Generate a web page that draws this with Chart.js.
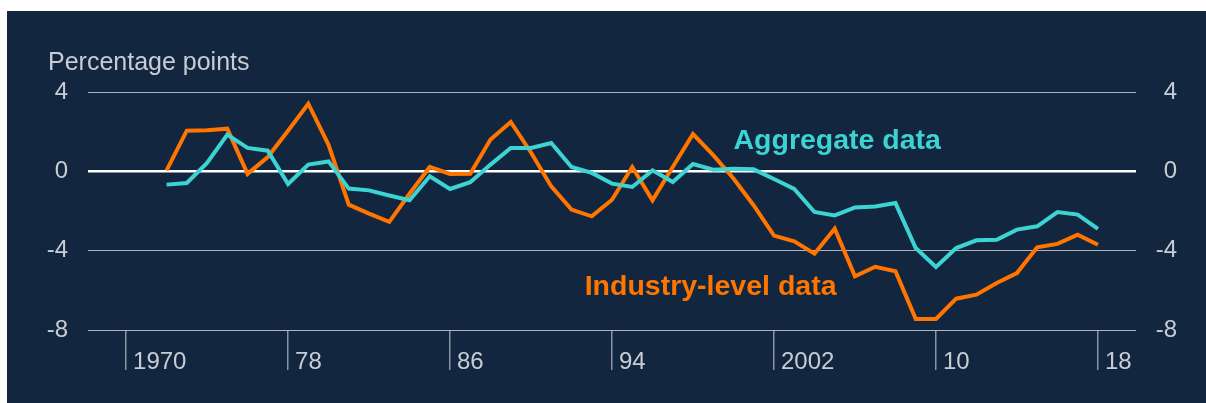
<!DOCTYPE html>
<html><head><meta charset="utf-8">
<script src="https://cdn.jsdelivr.net/npm/chart.js@4"></script>
<style>
html,body{margin:0;padding:0;background:#ffffff;}
#wrap{position:absolute;left:7px;top:11px;width:1199px;height:392px;background:#13263f;}
canvas{display:block;}
</style></head><body>
<div id="wrap"><canvas id="c" width="1199" height="392"></canvas></div>
<script>
const years = [1972,1973,1974,1975,1976,1977,1978,1979,1980,1981,1982,1983,1984,1985,1986,1987,1988,1989,1990,1991,1992,1993,1994,1995,1996,1997,1998,1999,2000,2001,2002,2003,2004,2005,2006,2007,2008,2009,2010,2011,2012,2013,2014,2015,2016,2017,2018];
const industry = [0.05,2.05,2.07,2.15,-0.13,0.72,2.05,3.41,1.34,-1.68,-2.13,-2.55,-1.13,0.22,-0.13,-0.12,1.6,2.49,0.95,-0.76,-1.93,-2.27,-1.43,0.22,-1.46,0.22,1.88,0.82,-0.36,-1.72,-3.24,-3.53,-4.15,-2.89,-5.29,-4.81,-5.04,-7.44,-7.44,-6.42,-6.22,-5.63,-5.13,-3.83,-3.66,-3.19,-3.7];
const aggregate = [-0.67,-0.59,0.42,1.85,1.18,1.04,-0.64,0.34,0.5,-0.87,-0.96,-1.22,-1.46,-0.25,-0.89,-0.55,0.34,1.18,1.18,1.43,0.22,-0.08,-0.62,-0.79,0.05,-0.54,0.37,0.08,0.13,0.1,-0.39,-0.89,-2.05,-2.22,-1.82,-1.77,-1.6,-3.87,-4.82,-3.87,-3.48,-3.45,-2.94,-2.77,-2.05,-2.18,-2.9];
const xTickValues = [1970,1978,1986,1994,2002,2010,2018];
const xTickLabels = ['1970','78','86','94','2002','10','18'];
const yTickValues = [-8,-4,0,4];
const yAxisTitle = 'Percentage points';
const seriesNames = ['Industry-level data','Aggregate data'];

const ORANGE = '#ff7500';
const CYAN = '#3dd3d3';
const TEXT = '#c8cdd4';
const FONT = '"Liberation Sans", Arial, Helvetica, sans-serif';

const toPoints = vals => years.map((yr,i)=>({x:yr,y:vals[i]}));

const annot = {
  id:'annot',
  afterDatasetsDraw(chart){
    const {ctx, scales:{x,y}} = chart;
    ctx.save();
    ctx.textAlign='left'; ctx.textBaseline='alphabetic';
    ctx.font = 'bold 28.5px ' + FONT;
    ctx.fillStyle = CYAN;
    ctx.fillText(seriesNames[1], x.getPixelForValue(2000.0), y.getPixelForValue(1.14));
    ctx.fillStyle = ORANGE;
    ctx.fillText(seriesNames[0], x.getPixelForValue(1992.65), y.getPixelForValue(-6.22));
    ctx.font = '25px ' + FONT;
    ctx.fillStyle = TEXT;
    ctx.fillText(yAxisTitle, 41, 59);
    ctx.restore();
  }
};

const yTicks = {
  font:{family:FONT,size:24}, color:TEXT, padding:20,
  callback:v=>String(v)
};

new Chart(document.getElementById('c'), {
  type:'line',
  data:{datasets:[
    {label:seriesNames[1], data:toPoints(aggregate), borderColor:CYAN, borderWidth:4, pointRadius:0, tension:0, yAxisID:'y', borderJoinStyle:'miter'},
    {label:seriesNames[0], data:toPoints(industry), borderColor:ORANGE, borderWidth:4, pointRadius:0, tension:0, yAxisID:'y', borderJoinStyle:'miter'}
  ]},
  options:{
    responsive:false, animation:false, devicePixelRatio:1,
    layout:{padding:{top:81,left:0,right:29,bottom:0}},
    plugins:{legend:{display:false}, tooltip:{enabled:false}, title:{display:false}},
    scales:{
      x:{type:'linear', position:'bottom', min:1968.12, max:2019.88,
        afterBuildTicks:s=>{s.ticks = xTickValues.map(v=>({value:v}));},
        afterFit:s=>{s.height=73;},
        border:{display:false},
        grid:{drawOnChartArea:false, drawTicks:true, tickLength:40, color:'#8a939f', lineWidth:1.5},
        ticks:{autoSkip:false, maxRotation:0, align:'start', labelOffset:7, padding:-22,
          font:{family:FONT,size:24}, color:TEXT,
          callback:(v)=>{const i=xTickValues.indexOf(v); return i>=0?xTickLabels[i]:'';}}
      },
      y:{type:'linear', position:'left', min:-8, max:4,
        afterBuildTicks:s=>{s.ticks = yTickValues.map(v=>({value:v}));},
        afterFit:s=>{s.width=81;},
        border:{display:false},
        grid:{drawTicks:false,
          color:c=>c.tick && c.tick.value===0 ? '#ffffff' : '#aeb5bf',
          lineWidth:c=>c.tick && c.tick.value===0 ? 2.5 : 1},
        ticks:yTicks
      },
      y2:{type:'linear', position:'right', min:-8, max:4,
        afterBuildTicks:s=>{s.ticks = yTickValues.map(v=>({value:v}));},
        afterFit:s=>{s.width=41;},
        border:{display:false},
        grid:{display:false, drawTicks:false},
        ticks:Object.assign({}, yTicks, {padding:19, crossAlign:'far'})
      }
    }
  },
  plugins:[annot]
});
</script>
</body></html>
